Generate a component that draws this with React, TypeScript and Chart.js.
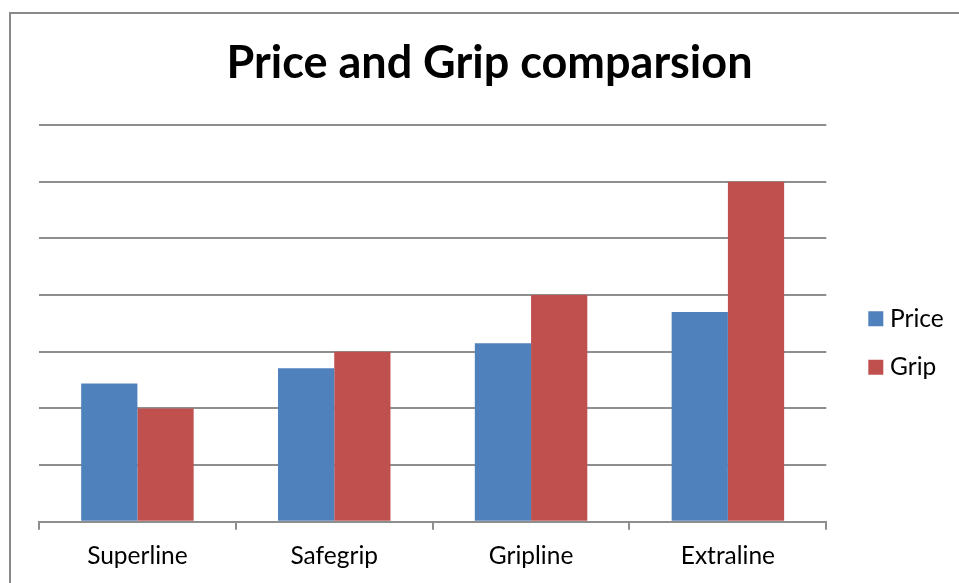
import React, { useEffect, useRef } from "react";
import { Chart, registerables } from "chart.js";

Chart.register(...registerables);

const categories = ["Superline", "Safegrip", "Gripline", "Extraline"];
const priceValues = [2.44, 2.71, 3.15, 3.7];
const gripValues = [2, 3, 4, 6];
const seriesNames = ["Price", "Grip"];
const chartTitle = "Price and Grip comparsion";

const FONT = "Lato, 'Open Sans', sans-serif";
const GRID = "#8e8e8e";

export default function App() {
  const ref = useRef<HTMLCanvasElement | null>(null);

  useEffect(() => {
    if (!ref.current) return;
    const chart = new Chart(ref.current, {
      type: "bar",
      data: {
        labels: categories,
        datasets: [
          {
            label: seriesNames[0],
            data: priceValues,
            backgroundColor: "#4F81BD",
            borderWidth: 0,
            categoryPercentage: 2 / 3.5,
            barPercentage: 1,
            pointStyle: "rect",
          },
          {
            label: seriesNames[1],
            data: gripValues,
            backgroundColor: "#C0504D",
            borderWidth: 0,
            categoryPercentage: 2 / 3.5,
            barPercentage: 1,
            pointStyle: "rect",
          },
        ],
      },
      options: {
        animation: false,
        responsive: false,
        devicePixelRatio: 1,
        layout: { padding: { left: 14.25, right: 14.25, top: 0, bottom: 16.8 } },
        plugins: {
          tooltip: { enabled: false },
          title: {
            display: true,
            text: chartTitle,
            color: "#000",
            font: { family: FONT, size: 45, weight: "bold" },
            padding: { top: 22, bottom: 35 },
          },
          legend: {
            display: true,
            position: "right",
            align: "start",
            fullSize: false,
            title: {
              display: true,
              text: "",
              font: { size: 1 },
              padding: { top: 156.3, bottom: 0 },
            },
            labels: {
              usePointStyle: true,
              pointStyle: "rect",
              boxWidth: 4,
              boxHeight: 15,
              padding: 24,
              color: "#000",
              font: { family: FONT, size: 24.5 },
            },
          },
        },
        scales: {
          x: {
            grid: {
              display: true,
              drawOnChartArea: false,
              drawTicks: true,
              tickLength: 8,
              color: GRID,
              lineWidth: 2,
              offset: true,
            },
            border: { display: true, color: GRID, width: 2 },
            ticks: {
              color: "#000",
              padding: 12,
              font: { family: FONT, size: 24.5 },
              maxRotation: 0,
            },
          },
          y: {
            min: 0,
            max: 7,
            ticks: { display: false, stepSize: 1 },
            grid: { color: GRID, lineWidth: 2, drawTicks: false },
            border: { display: false },
            afterFit: (s: any) => {
              s.width = 13.75;
            },
          },
          y2: {
            position: "right",
            display: true,
            min: 0,
            max: 7,
            ticks: { display: false },
            grid: { display: false, drawTicks: false },
            border: { display: false },
            afterFit: (s: any) => {
              s.width = 23.5;
            },
          },
        },
      },
    } as any);
    return () => chart.destroy();
  }, []);

  return (
    <div
      style={{
        position: "fixed",
        left: 0,
        top: 0,
        width: 959,
        height: 583,
        overflow: "hidden",
        background: "#fff",
      }}
    >
      <div
        style={{
          position: "absolute",
          left: 9,
          top: 12,
          width: 961,
          height: 602,
          borderLeft: "2px solid #898989",
          borderTop: "2px solid #898989",
          boxSizing: "border-box",
        }}
      >
        <canvas
          ref={ref}
          width={957}
          height={586}
          style={{ display: "block", width: 957, height: 586 }}
        />
      </div>
    </div>
  );
}
